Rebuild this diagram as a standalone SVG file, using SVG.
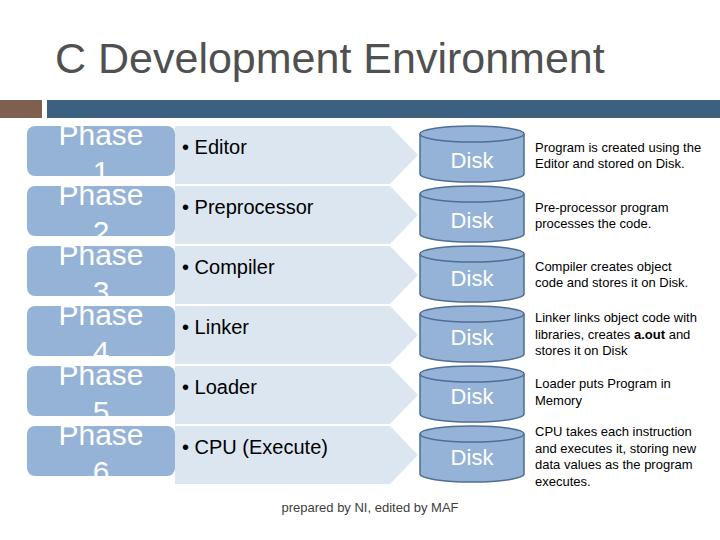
<svg xmlns="http://www.w3.org/2000/svg" width="720" height="540" viewBox="0 0 720 540">
<style>
text{font-family:"Liberation Sans",Arial,sans-serif}
.ph{fill:#95b3d7}
.pt{fill:#fff;font-size:30px;text-anchor:middle}
.ch{fill:#dce6f0}
.it{fill:#000;font-size:20px}
.dk{fill:#95b3d7;stroke:#4f6e93;stroke-width:1.5}
.dt{fill:#fff;font-size:22px;text-anchor:middle}
.ds{font-size:13px;fill:#000}
</style>
<rect width="720" height="540" fill="#fff"/>
<text x="55" y="73" font-size="43" fill="#505050">C Development Environment</text>
<rect x="0" y="100" width="42" height="18" fill="#7f6050"/>
<rect x="47" y="100" width="673" height="18" fill="#3c6080"/>
<g id="connectors"></g>
<defs>
<g id="row">
<path class="ch" d="M175 0 H390 L418 29 L390 58 H175 Z"/>
<rect class="ph" x="27" y="0" width="148" height="50" rx="8"/>
<path class="dk" d="M420 8 V48 A52 8 0 0 0 524 48 V8"/>
<ellipse class="dk" cx="472" cy="8" rx="52" ry="8"/>
</g>
</defs>
<g id="p1"><use href="#row" y="126"/><text class="pt" x="101" y="145">Phase</text><text class="pt" x="101" y="182">1</text><text class="it" x="182" y="154">• Editor</text><text class="dt" x="472" y="168">Disk</text><text class="ds" x="535" y="152">Program is created using the</text><text class="ds" x="535" y="168">Editor and stored on Disk.</text></g>
<g id="p2"><use href="#row" y="186"/><text class="pt" x="101" y="205">Phase</text><text class="pt" x="101" y="242">2</text><text class="it" x="182" y="214">• Preprocessor</text><text class="dt" x="472" y="228">Disk</text><text class="ds" x="535" y="212">Pre-processor program</text><text class="ds" x="535" y="228">processes the  code.</text></g>
<g id="p3"><use href="#row" y="246"/><text class="pt" x="101" y="265">Phase</text><text class="pt" x="101" y="302">3</text><text class="it" x="182" y="274">• Compiler</text><text class="dt" x="472" y="286">Disk</text><text class="ds" x="535" y="271">Compiler creates object</text><text class="ds" x="535" y="287">code and stores it  on Disk.</text></g>
<g id="p4"><use href="#row" y="306"/><text class="pt" x="101" y="325">Phase</text><text class="pt" x="101" y="362">4</text><text class="it" x="182" y="334">• Linker</text><text class="dt" x="472" y="345">Disk</text><text class="ds" x="535" y="322">Linker links object code with</text><text class="ds" x="535" y="339">libraries, creates <tspan font-weight="bold">a.out</tspan> and</text><text class="ds" x="535" y="355">stores it on Disk</text></g>
<g id="p5"><use href="#row" y="366"/><text class="pt" x="101" y="385">Phase</text><text class="pt" x="101" y="422">5</text><text class="it" x="182" y="394">• Loader</text><text class="dt" x="472" y="404">Disk</text><text class="ds" x="535" y="388">Loader puts Program in</text><text class="ds" x="535" y="405">Memory</text></g>
<g id="p6"><use href="#row" y="426"/><text class="pt" x="101" y="445">Phase</text><text class="pt" x="101" y="482">6</text><text class="it" x="182" y="454">• CPU (Execute)</text><text class="dt" x="472" y="465">Disk</text><text class="ds" x="535" y="436">CPU takes each instruction</text><text class="ds" x="535" y="453">and executes it, storing new</text><text class="ds" x="535" y="469">data values as the program</text><text class="ds" x="535" y="486">executes.</text></g>
<text x="370" y="512" font-size="13" fill="#404040" text-anchor="middle">prepared by NI, edited by MAF</text>
</svg>
